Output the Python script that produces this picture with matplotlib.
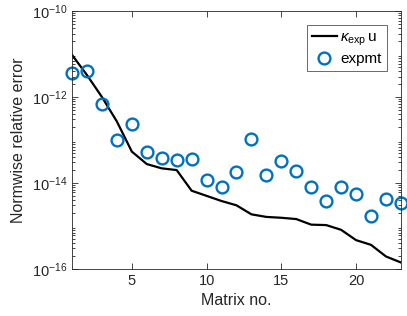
import numpy as np
import matplotlib
matplotlib.use("Agg")
import matplotlib.pyplot as plt
from matplotlib.ticker import LogLocator, FixedLocator, NullFormatter

plt.rcParams["font.family"] = "Liberation Sans"
plt.rcParams["mathtext.fontset"] = "custom"
plt.rcParams["mathtext.rm"] = "Liberation Sans"
plt.rcParams["mathtext.it"] = "Liberation Sans:italic"

# matrix index
matrix_no = np.arange(1, 24)

# log10 of errors
bound_log = [-11.02, -11.49, -12.00, -12.57, -13.27, -13.56, -13.66, -13.70,
             -14.18, -14.30, -14.42, -14.52, -14.73, -14.79, -14.81, -14.84,
             -14.97, -14.98, -15.09, -15.33, -15.44, -15.71, -15.85]
expmt_log = [-11.43, -11.40, -12.16, -13.00, -12.63, -13.27, -13.43, -13.47,
             -13.44, -13.94, -14.09, -13.75, -12.98, -13.82, -13.49, -13.72,
             -14.09, -14.42, -14.09, -14.26, -14.77, -14.37, -14.46]

bound = 10.0 ** np.array(bound_log)
expmt = 10.0 ** np.array(expmt_log)

fig = plt.figure(figsize=(4.07, 3.16), dpi=100)
ax = fig.add_axes([0.177, 0.149, 0.808, 0.816])

ax.semilogy(matrix_no, bound, color="black", linewidth=1.6,
            label=r"$\kappa_{\mathrm{exp}}\,$u")
ax.semilogy(matrix_no, expmt, linestyle="none", marker="o", markersize=8.5,
            markerfacecolor="none", markeredgecolor="#0072BD",
            markeredgewidth=1.7, label="expmt", clip_on=False)

ax.set_xlim(1, 23)
ax.set_ylim(1e-16, 1e-10)
ax.set_xticks([5, 10, 15, 20])
ax.yaxis.set_major_locator(FixedLocator([1e-16, 1e-14, 1e-12, 1e-10]))
ax.yaxis.set_minor_locator(LogLocator(base=10, subs=np.arange(2, 10), numticks=20))
ax.yaxis.set_minor_formatter(NullFormatter())

ax.tick_params(which="both", direction="in", top=True, right=True,
               labelsize=10.5, colors="#262626", width=0.6)
ax.tick_params(which="major", length=4)
ax.tick_params(which="minor", length=2)
for s in ax.spines.values():
    s.set_linewidth(0.6)
    s.set_color("#262626")

ax.set_xlabel("Matrix no.", fontsize=11.5, color="#262626")
ax.set_ylabel("Normwise relative error", fontsize=11.5, color="#262626")

leg = ax.legend(loc="upper right", fontsize=11, frameon=True, fancybox=False,
                edgecolor="#262626", handlelength=1.6, handletextpad=0.25,
                borderpad=0.35, labelspacing=0.3, borderaxespad=0.9)
leg.get_frame().set_linewidth(0.6)

fig.savefig("out.png", dpi=100)
